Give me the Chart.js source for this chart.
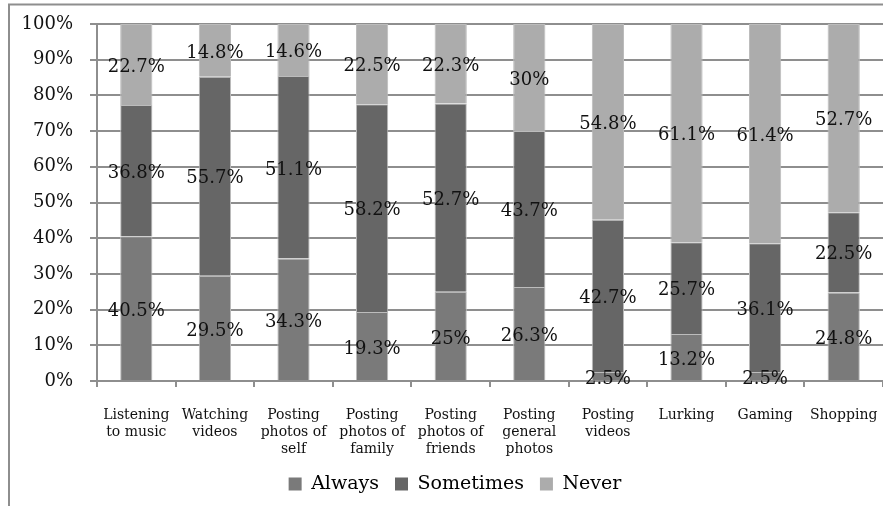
<!DOCTYPE html>
<html>
<head>
<meta charset="utf-8">
<script src="https://cdn.jsdelivr.net/npm/chart.js@4/dist/chart.umd.min.js"></script>
<style>
  html, body { margin: 0; padding: 0; background: #fff; }
  #wrap { position: relative; width: 883px; height: 506px; }
</style>
</head>
<body>
<div id="wrap"><canvas id="c" width="883" height="506"></canvas></div>
<script>
// Share of respondents per online activity
const categories = [
  ["Listening", "to music"],
  ["Watching", "videos"],
  ["Posting", "photos of", "self"],
  ["Posting", "photos of", "family"],
  ["Posting", "photos of", "friends"],
  ["Posting", "general", "photos"],
  ["Posting", "videos"],
  "Lurking",
  "Gaming",
  "Shopping"
];
const always    = [40.5, 29.5, 34.3, 19.3, 25.0, 26.3, 2.5, 13.2, 2.5, 24.8];
const sometimes = [36.8, 55.7, 51.1, 58.2, 52.7, 43.7, 42.7, 25.7, 36.1, 22.5];
const never     = [22.7, 14.8, 14.6, 22.5, 22.3, 30.0, 54.8, 61.1, 61.4, 52.7];
const yTicks    = [0, 10, 20, 30, 40, 50, 60, 70, 80, 90, 100];

const FONT = "'DejaVu Serif', 'Liberation Serif', serif";
const GRID = '#8e8e8e';

// Frame lines along the top and left of the figure
const framePlugin = {
  id: 'frame',
  beforeDraw(chart) {
    const ctx = chart.ctx;
    ctx.save();
    ctx.strokeStyle = GRID;
    ctx.lineWidth = 2;
    ctx.beginPath();
    ctx.moveTo(9, 506);
    ctx.lineTo(9, 4.5);
    ctx.lineTo(883, 4.5);
    ctx.stroke();
    ctx.restore();
  }
};

// Nudge the legend row to the right of the canvas centre
const legendShift = {
  id: 'legendShift',
  afterLayout(chart) {
    const lg = chart.legend;
    if (lg) { lg.left += 9; lg.right += 9; }
  }
};

// Percentage text in the middle of every stacked segment
const valueLabels = {
  id: 'valueLabels',
  afterDatasetsDraw(chart) {
    const ctx = chart.ctx;
    const y = chart.scales.y;
    ctx.save();
    ctx.font = "18px " + FONT;
    ctx.fillStyle = '#111';
    ctx.textAlign = 'center';
    ctx.textBaseline = 'middle';
    chart.data.datasets.forEach((ds, di) => {
      const meta = chart.getDatasetMeta(di);
      meta.data.forEach((bar, i) => {
        const v = ds.data[i];
        let base = 0;
        for (let k = 0; k < di; k++) base += chart.data.datasets[k].data[i];
        const cy = y.getPixelForValue(base + v / 2) + 2.5;
        ctx.fillText(String(v) + '%', bar.x, cy);
      });
    });
    ctx.restore();
  }
};

const seg = (label, data, color) => ({
  label, data,
  backgroundColor: color,
  borderColor: '#bcbcbc',
  borderWidth: 1,
  categoryPercentage: 1.0,
  barPercentage: 0.41
});

new Chart(document.getElementById('c'), {
  type: 'bar',
  data: {
    labels: categories,
    datasets: [
      seg('Always', always, '#7a7a7a'),
      seg('Sometimes', sometimes, '#666666'),
      seg('Never', never, '#acacac')
    ]
  },
  options: {
    responsive: false,
    animation: false,
    devicePixelRatio: 1,
    layout: { padding: { left: 9, top: 24, right: 0, bottom: 2.5 } },
    plugins: {
      tooltip: { enabled: false },
      legend: {
        position: 'bottom',
        labels: {
          font: { family: FONT, size: 19, lineHeight: 1 },
          color: '#111',
          boxWidth: 13,
          boxHeight: 13,
          padding: 16,
          generateLabels(chart) {
            return chart.data.datasets.map((ds, i) => ({
              text: ds.label,
              fillStyle: ds.backgroundColor,
              strokeStyle: ds.backgroundColor,
              lineWidth: 0,
              datasetIndex: i,
              hidden: false
            }));
          }
        }
      }
    },
    scales: {
      x: {
        stacked: true,
        afterFit(scale) {
          scale.height = 77.5;
          scale.paddingLeft = 0;
          scale.paddingRight = 0;
        },
        grid: {
          offset: true,
          drawOnChartArea: false,
          drawTicks: true,
          tickLength: 6,
          color: GRID,
          lineWidth: 2
        },
        border: { color: GRID, width: 2 },
        ticks: {
          font: { family: FONT, size: 14, lineHeight: 1.2 },
          color: '#111',
          padding: 20,
          maxRotation: 0,
          autoSkip: false
        }
      },
      y: {
        stacked: true,
        min: 0,
        max: 100,
        afterFit(scale) {
          scale.width = 88;
          scale.paddingTop = 0;
          scale.paddingBottom = 0;
        },
        afterBuildTicks(scale) { scale.ticks = yTicks.map(v => ({ value: v })); },
        grid: {
          color: GRID,
          lineWidth: 2,
          tickLength: 7
        },
        border: { color: GRID, width: 2 },
        ticks: {
          font: { family: FONT, size: 18 },
          color: '#111',
          padding: 17,
          callback: v => v + '%'
        }
      }
    }
  },
  plugins: [framePlugin, legendShift, valueLabels]
});
</script>
</body>
</html>
